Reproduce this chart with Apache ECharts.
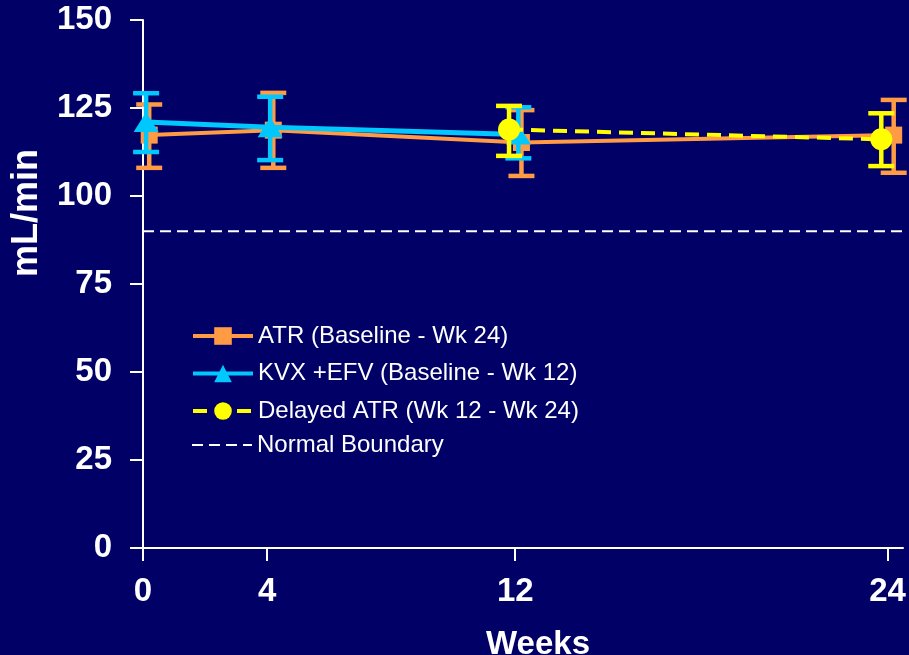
<!DOCTYPE html>
<html>
<head>
<meta charset="utf-8">
<script src="https://cdn.jsdelivr.net/npm/echarts@6/dist/echarts.min.js"></script>
<style>
html,body{margin:0;padding:0;background:#000066;}
#chart{width:909px;height:655px;}
</style>
</head>
<body>
<div id="chart"></div>
<script>
// ---- data ----
const xTickValues = [0, 4, 12, 24];

const atrName = 'ATR (Baseline - Wk 24)';
const atrWeeks = [0, 4, 12, 24];
const atrMean = [117.3, 118.7, 115.2, 117.3];
const atrLow  = [108.0, 108.0, 105.7, 106.6];
const atrHigh = [126.0, 129.3, 124.4, 127.3];

const kvxName = 'KVX +EFV (Baseline - Wk 12)';
const kvxWeeks = [0, 4, 12];
const kvxMean = [121.0, 119.5, 117.5];
const kvxLow  = [112.5, 110.2, 110.7];
const kvxHigh = [129.2, 128.2, 125.2];

const delName = 'Delayed ATR (Wk 12 - Wk 24)';
const delWeeks = [12, 24];
const delMean = [118.9, 116.1];
const delLow  = [111.4, 108.5];
const delHigh = [125.6, 123.5];

const normalName = 'Normal Boundary';
const normalValue = 90;

// ---- styling ----
const FONT = '"Liberation Sans", Arial, sans-serif';
const ORANGE = '#FF9B45';
const CYAN = '#00C8FF';
const YELLOW = '#FFFF00';
const BG = '#000066';
const X_MAX = 24.5;
// small horizontal dodge (in weeks) so overlapping markers stay visible
const dodge = { atr: 0.2, kvx: 0.1, del: -0.2 };

function pts(ws, vals, off) { return ws.map((w, i) => [w + off, vals[i]]); }
function errs(ws, lo, hi, off) { return ws.map((w, i) => [w + off, lo[i], hi[i]]); }

function errRenderer(color) {
  return function (params, api) {
    const x = api.value(0), lo = api.value(1), hi = api.value(2);
    const pHi = api.coord([x, hi]);
    const pLo = api.coord([x, lo]);
    const half = 13;
    const style = { stroke: color, lineWidth: 4.5, fill: null };
    return {
      type: 'group',
      children: [
        { type: 'line', shape: { x1: pHi[0], y1: pHi[1], x2: pLo[0], y2: pLo[1] }, style: style },
        { type: 'line', shape: { x1: pHi[0] - half, y1: pHi[1], x2: pHi[0] + half, y2: pHi[1] }, style: style },
        { type: 'line', shape: { x1: pLo[0] - half, y1: pLo[1], x2: pLo[0] + half, y2: pLo[1] }, style: style }
      ]
    };
  };
}

const legendText = { color: '#FFFFFF', fontSize: 24, fontFamily: FONT };

const chart = echarts.init(document.getElementById('chart'), null, { renderer: 'canvas' });
chart.setOption({
  backgroundColor: BG,
  animation: false,
  textStyle: { fontFamily: FONT },
  grid: { left: 143, right: 6, top: 20, bottom: 107, containLabel: false, outerBoundsMode: 'none' },
  legend: [
    {
      orient: 'vertical',
      left: 186,
      top: 319,
      itemWidth: 60,
      itemHeight: 22,
      itemGap: 13.5,
      data: [
        { name: atrName, lineStyle: { width: 4 } },
        { name: kvxName, lineStyle: { width: 4 } },
        { name: delName, lineStyle: { width: 4 } }
      ],
      textStyle: legendText
    },
    {
      orient: 'vertical',
      left: 186,
      top: 428,
      itemWidth: 60,
      itemHeight: 22,
      data: [
        { name: normalName, lineStyle: { width: 2 }, itemStyle: { opacity: 0 } }
      ],
      textStyle: legendText
    }
  ],
  xAxis: {
    type: 'value',
    min: 0,
    max: X_MAX,
    name: 'Weeks',
    nameLocation: 'middle',
    nameGap: 80,
    nameTextStyle: { color: '#FFFFFF', fontSize: 33, fontWeight: 'bold', fontFamily: FONT, padding: [0, 0, 0, 30] },
    axisLine: { show: true, lineStyle: { color: '#FFFFFF', width: 2 } },
    axisTick: { show: true, length: 13, lineStyle: { color: '#FFFFFF', width: 2 }, customValues: xTickValues },
    axisLabel: { color: '#FFFFFF', fontSize: 33, fontWeight: 'bold', margin: 27, customValues: xTickValues, fontFamily: FONT },
    splitLine: { show: false }
  },
  yAxis: {
    type: 'value',
    min: 0,
    max: 150,
    interval: 25,
    name: 'mL/min',
    nameLocation: 'middle',
    nameGap: 98,
    nameRotate: 90,
    nameTextStyle: { color: '#FFFFFF', fontSize: 36, fontWeight: 'bold', fontFamily: FONT, padding: [0, 0, 0, 142] },
    axisLine: { show: true, lineStyle: { color: '#FFFFFF', width: 2 } },
    axisTick: { show: true, length: 13, lineStyle: { color: '#FFFFFF', width: 2 } },
    axisLabel: { color: '#FFFFFF', fontSize: 33, fontWeight: 'bold', margin: 31, fontFamily: FONT },
    splitLine: { show: false }
  },
  series: [
    {
      name: normalName,
      type: 'line',
      data: [[0, normalValue], [X_MAX, normalValue]],
      showSymbol: false,
      lineStyle: { color: '#FFFFFF', width: 2, type: [11, 6] },
      itemStyle: { color: 'rgba(0,0,0,0)' },
      z: 1
    },
    {
      name: atrName + ' err',
      type: 'custom',
      renderItem: errRenderer(ORANGE),
      data: errs(atrWeeks, atrLow, atrHigh, dodge.atr),
      encode: { x: 0, y: [1, 2] },
      z: 2
    },
    {
      name: atrName,
      type: 'line',
      data: pts(atrWeeks, atrMean, dodge.atr),
      symbol: 'rect',
      symbolSize: 17,
      lineStyle: { color: ORANGE, width: 4 },
      itemStyle: { color: ORANGE },
      z: 3
    },
    {
      name: kvxName + ' err',
      type: 'custom',
      renderItem: errRenderer(CYAN),
      data: errs(kvxWeeks, kvxLow, kvxHigh, dodge.kvx),
      encode: { x: 0, y: [1, 2] },
      z: 4
    },
    {
      name: kvxName,
      type: 'line',
      data: pts(kvxWeeks, kvxMean, dodge.kvx),
      symbol: 'triangle',
      symbolSize: [25, 20],
      lineStyle: { color: CYAN, width: 5 },
      itemStyle: { color: CYAN },
      z: 5
    },
    {
      name: delName + ' err',
      type: 'custom',
      renderItem: errRenderer(YELLOW),
      data: errs(delWeeks, delLow, delHigh, dodge.del),
      encode: { x: 0, y: [1, 2] },
      z: 6
    },
    {
      name: delName,
      type: 'line',
      data: pts(delWeeks, delMean, dodge.del),
      symbol: 'circle',
      symbolSize: 22,
      lineStyle: { color: YELLOW, width: 4, type: [14, 8] },
      itemStyle: { color: YELLOW },
      z: 7
    }
  ]
});
</script>
</body>
</html>
